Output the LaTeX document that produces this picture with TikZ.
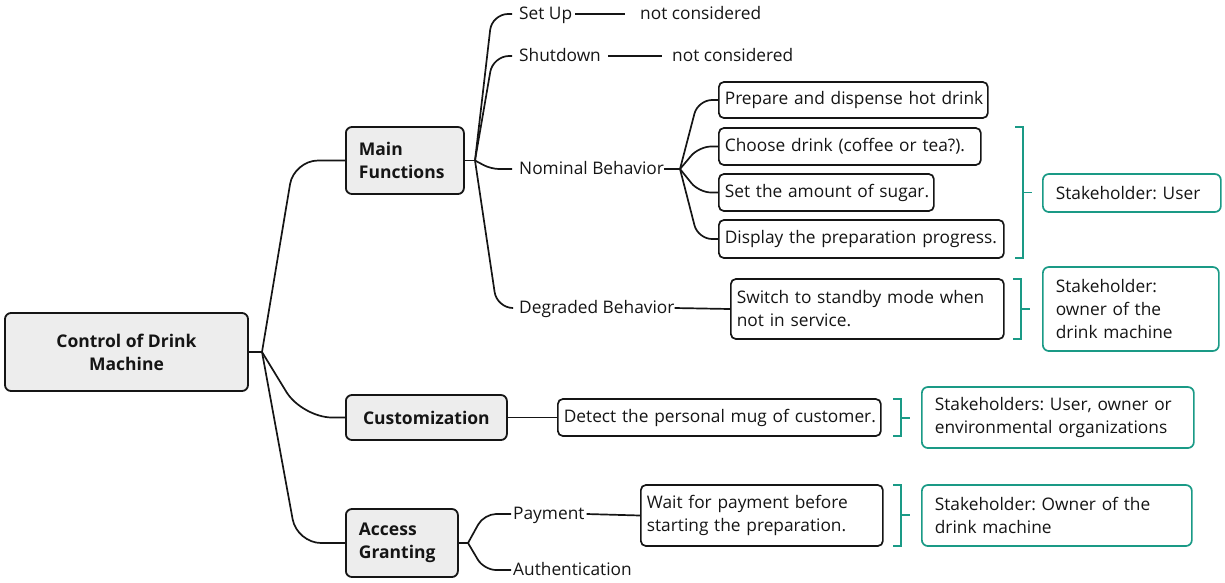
\documentclass[tikz,border=0pt]{standalone}
\usepackage{fontspec}
\setmainfont{Open Sans}
\definecolor{lc}{HTML}{151515}
\definecolor{gfill}{HTML}{EDEDED}
\definecolor{teal1}{HTML}{1A9A86}
\newcommand{\rfont}{\fontsize{17.3}{23}\selectfont\frenchspacing\color{lc}}
\newcommand{\bfont}{\fontsize{17.5}{23}\selectfont\bfseries\color{lc}}
\begin{document}
\begin{tikzpicture}[x=1pt,y=-1pt,
  ln/.style={draw=lc, line width=1.7pt, rounded corners=14pt},
  topic/.style={draw=lc, line width=1.8pt, fill=gfill, rounded corners=6pt, font=\bfont, inner ysep=0pt},
  leaf/.style={draw=lc, line width=1.7pt, fill=white, rounded corners=5pt, font=\rfont, inner xsep=6pt, inner ysep=0pt, align=left, anchor=west},
  sh/.style={draw=teal1, line width=1.7pt, fill=white, rounded corners=6pt, font=\rfont, inner xsep=13pt, inner ysep=0pt, align=left, anchor=west},
  lbl/.style={font=\rfont, inner xsep=0pt, inner ysep=0pt, text height=14pt, text depth=3pt, anchor=west},
  brk/.style={draw=teal1, line width=1.7pt}]
\useasboundingbox (0,0) rectangle (1225,582);

% topics
\node[topic, minimum width=243pt, minimum height=78pt, align=center] (root) at (126.5,352) {Control of Drink\\Machine};
\node[topic, anchor=west, minimum height=67pt, text width=92pt, inner xsep=13pt, align=left] (mf) at (345,160.5) {Main\\Functions};
\node[topic, anchor=west, minimum width=161pt, minimum height=45pt, align=center] (cust) at (345,417.5) {Customization};
\node[topic, anchor=west, minimum height=68pt, text width=86pt, inner xsep=13pt, align=left] (ag) at (345,543) {Access\\Granting};

% labels
\node[lbl] (setup) at (519,14) {Set Up};
\node[lbl] (nc1) at (640,14) {not considered};
\node[lbl] (shut) at (519,56) {Shutdown};
\node[lbl] (nc2) at (672,56) {not considered};
\node[lbl] (nom) at (519,169) {Nominal Behavior};
\node[lbl] (deg) at (519,308) {Degraded Behavior};
\node[lbl] (pay) at (513,514) {Payment};
\node[lbl] (auth) at (513,570) {Authentication};

% leaf boxes
\node[leaf, text width=257pt, minimum height=36pt] (p1) at (718,100) {\mbox{Prepare and dispense hot drink}};
\node[leaf, text width=250pt, minimum height=37pt] (p2) at (718,146.5) {\mbox{Choose drink (coffee or tea?).}};
\node[leaf, text width=203pt, minimum height=37pt] (p3) at (718,192.5) {\mbox{Set the amount of sugar.}};
\node[leaf, text width=273pt, minimum height=38pt] (p4) at (718,239) {\mbox{Display the preparation progress.}};
\node[leaf, text width=261pt, minimum height=60pt] (sw) at (730,309) {\mbox{Switch to standby mode when}\\\mbox{not in service.}};
\node[leaf, text width=311pt, minimum height=37pt] (det) at (557,417.5) {\mbox{Detect the personal mug of customer.}};
\node[leaf, text width=230pt, minimum height=61pt] (wait) at (640,515.5) {\mbox{Wait for payment before}\\\mbox{starting the preparation.}};

% stakeholders
\node[sh, text width=152pt, minimum height=38pt] (s1) at (1042,193) {\mbox{Stakeholder: User}};
\node[sh, text width=150pt, minimum height=84pt] (s2) at (1042,309) {Stakeholder:\\owner of the\\drink machine};
\node[sh, text width=246pt, minimum height=61pt] (s3) at (921,417.5) {\mbox{Stakeholders: User, owner or}\\\mbox{environmental organizations}};
\node[sh, text width=244pt, minimum height=61pt] (s4) at (921,515.5) {\mbox{Stakeholder: Owner of the}\\drink machine};

% junctions
\coordinate (j0) at (262,352);
\coordinate (j1) at (475,160.5);
\coordinate (j2) at (680,169);
\coordinate (j3) at (468,543);

% connectors root
\draw[ln] (root.east) -- (j0);
\draw[ln, rounded corners=24pt] (j0) -- (294,160.5) -- (mf.west);
\draw[ln, rounded corners=30pt] (j0) -- (302,417.5) -- (cust.west);
\draw[ln, rounded corners=24pt] (j0) -- (297,543) -- (ag.west);

% main functions
\draw[ln] (mf.east) -- (j1);
\draw[ln, rounded corners=16pt] (j1) -- (492,14) -- ([xshift=-7pt]setup.west);
\draw[ln, rounded corners=16pt] (j1) -- (493,56) -- ([xshift=-7pt]shut.west);
\draw[ln, rounded corners=8pt] (j1) -- (491,169) -- ([xshift=-7pt]nom.west);
\draw[ln, rounded corners=16pt] (j1) -- (497,308) -- ([xshift=-7pt]deg.west);
\draw[ln] ([xshift=3pt]setup.east) -- ([xshift=-15pt]nc1.west);
\draw[ln] ([xshift=7pt]shut.east) -- ([xshift=-10pt]nc2.west);

% nominal
\draw[ln] (nom.east) -- (j2);
\draw[ln, rounded corners=14pt] (j2) -- (698,100) -- (p1.west);
\draw[ln, rounded corners=12pt] (j2) -- (699,146.5) -- (p2.west);
\draw[ln, rounded corners=12pt] (j2) -- (699,192.5) -- (p3.west);
\draw[ln, rounded corners=14pt] (j2) -- (698,239) -- (p4.west);

\draw[ln] (deg.east) -- (sw.west);
\draw[ln] (cust.east) -- (det.west);

% access granting
\draw[ln] (ag.east) -- (j3);
\draw[ln, rounded corners=12pt] (j3) -- (484,514) -- ([xshift=-2pt]pay.west);
\draw[ln, rounded corners=12pt] (j3) -- (484,570) -- ([xshift=-2pt]auth.west);
\draw[ln] ([xshift=2pt]pay.east) -- (wait.west);

% brackets
\draw[brk] (1015,127) -- (1023,127) -- (1023,258) -- (1015,258);
\draw[brk] (1023,192.5) -- (1032,192.5);
\draw[brk] (1013,279) -- (1021,279) -- (1021,339) -- (1013,339);
\draw[brk] (1021,309) -- (1030,309);
\draw[brk] (893,399) -- (901,399) -- (901,436) -- (893,436);
\draw[brk] (901,418) -- (910,418);
\draw[brk] (893,485) -- (901,485) -- (901,546) -- (893,546);
\draw[brk] (901,515) -- (910,515);
\end{tikzpicture}
\end{document}
